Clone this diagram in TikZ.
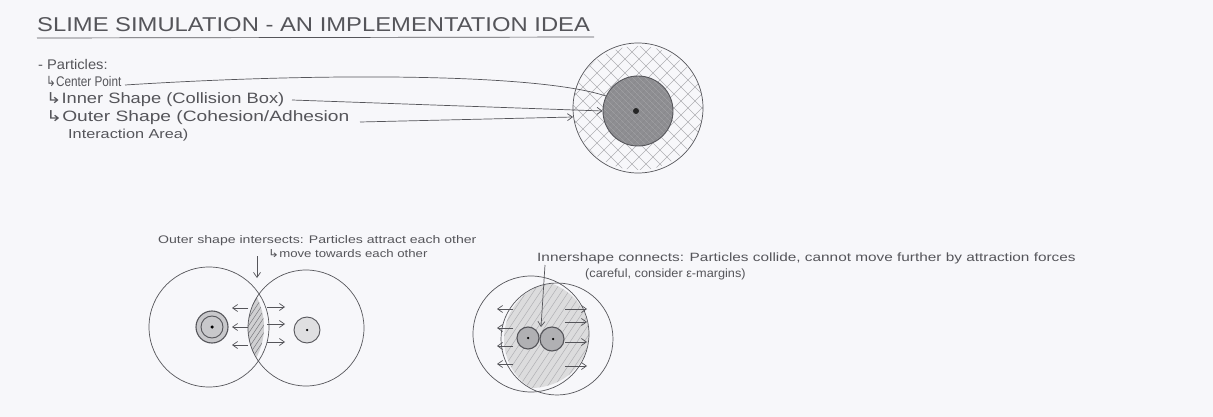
\documentclass[tikz,border=0pt]{standalone}
\usepackage{fontspec}
\setmainfont{Liberation Sans}
\newfontfamily\symf{DejaVu Sans}
\usetikzlibrary{arrows.meta}
\definecolor{paper}{HTML}{F7F7FA}
\definecolor{pencil}{HTML}{55555A}
\definecolor{hatchc}{HTML}{B0B0B4}
\definecolor{darkfill}{HTML}{8E8E92}
\newcommand{\hk}{{\symf ↳}}
\newcommand{\wide}[2]{\scalebox{#1}[1]{#2}}
\begin{document}
\begin{tikzpicture}[x=1pt,y=-1pt,
  ink/.style={draw=pencil, line width=0.7pt},
  lbl/.style={anchor=base west, text=pencil, inner sep=0pt},
  tip/.style={-{Straight Barb[length=5pt,width=7pt]}},
  ring/.style={circle, draw=pencil, line width=0.7pt, inner sep=0pt}]
\useasboundingbox (0,0) rectangle (1213,417);
\fill[paper] (0,0) rectangle (1213,417);

% ---------- title ----------
\node[lbl, font=\fontsize{20}{20}\selectfont] (title) at (37,32) {\wide{1.19}{SLIME SIMULATION - AN IMPLEMENTATION IDEA}};
\coordinate (ulA) at (37,38);
\coordinate (ulB) at (594,37);
\draw[ink] (ulA) -- (ulB);

% ---------- list ----------
\node[lbl, font=\fontsize{14}{14}\selectfont] (parts) at (38,70) {\wide{1.05}{- Particles:}};
\node[lbl, font=\fontsize{14}{14}\selectfont] (cpt) at (46,87) {\wide{0.84}{\hk Center Point}};
\node[lbl, font=\fontsize{15}{15}\selectfont] (inn) at (46,104) {\wide{1.22}{\hk Inner Shape (Collision Box)}};
\node[lbl, font=\fontsize{15}{15}\selectfont] (out) at (46,122) {\wide{1.28}{\hk Outer Shape (Cohesion/Adhesion}};
\node[lbl, font=\fontsize{13}{13}\selectfont] (out2) at (68,139) {\wide{1.25}{Interaction Area)}};

% ---------- particle sketch ----------
\begin{scope}
  \clip (638,108) ellipse (65 and 62);
  \foreach \k in {-160,-146,...,160} {
    \draw[hatchc, line width=0.5pt] (638+\k-80,188) -- (638+\k+80,28);
    \draw[hatchc, line width=0.5pt] (638+\k-80,28) -- (638+\k+80,188);
  }
\end{scope}
\node[ring, minimum width=130, minimum height=124] (outer) at (638,108) {};
\fill[darkfill] (638,111) circle (35);
\begin{scope}
  \clip (638,111) circle (35);
  \foreach \k in {-80,-74,...,80} {
    \draw[pencil!70, line width=0.45pt] (638+\k-40,151) -- (638+\k+40,71);
    \draw[pencil!55, line width=0.4pt] (638+\k-40,71) -- (638+\k+40,151);
  }
\end{scope}
\node[ring, minimum size=70, line width=0.9pt] (inner) at (638,111) {};
\node[circle, fill=black!85, minimum size=6, inner sep=0pt] (dot) at (636,111) {};

\coordinate (cptE) at (125,85);
\draw[ink] (cptE) .. controls (330,72) and (540,74) .. (inner.155);
\coordinate (innE) at (292,100);
\draw[ink, tip] (innE) -- (inner.west);
\coordinate (outE) at (360,122);
\coordinate (outT) at (573,117);
\draw[ink, tip] (outE) -- (outT);

% ---------- bottom left: outer shapes intersect ----------
\node[lbl, font=\fontsize{11}{11}\selectfont] (t1) at (158,243) {\wide{1.28}{Outer shape intersects: Particles attract each other}};
\node[lbl, font=\fontsize{11}{11}\selectfont] (t1b) at (268,257) {\wide{1.2}{\hk move towards each other}};

\begin{scope}
  \clip (209,327) ellipse (55 and 60);
  \clip (306,328) circle (58);
  \fill[hatchc!60] (150,260) rectangle (370,400);
  \foreach \k in {-80,-75,...,80} {
    \draw[pencil!80, line width=0.5pt] (257+\k-40,388) -- (257+\k+40,268);
  }
\end{scope}
\node[ring, minimum width=110, minimum height=120] (L1) at (209,327) {};
\node[ring, minimum size=116] (R1) at (306,328) {};
\node[ring, minimum size=32, line width=1.1pt, fill=hatchc!70] (pL) at (212,327) {};
\node[ring, minimum size=22, line width=0.9pt] (pLi) at (212,327) {};
\node[circle, fill=black, minimum size=3.5, inner sep=0pt] (pLd) at (212,327) {};
\node[ring, minimum size=26, line width=0.9pt, fill=hatchc!40] (pR) at (307,330) {};
\node[circle, fill=black, minimum size=2.5, inner sep=0pt] (pRd) at (307,330) {};

\coordinate (dA) at (257,256);
\coordinate (dB) at (257,278);
\draw[ink, tip] (dA) -- (dB);
\foreach \yy [count=\i] in {308,327,345} {
  \coordinate (la\i) at (248,\yy); \coordinate (lb\i) at (232,\yy);
  \draw[ink, tip] (la\i) -- (lb\i);
}
\foreach \yy [count=\i] in {307,324,342} {
  \coordinate (ra\i) at (267,\yy); \coordinate (rb\i) at (285,\yy);
  \draw[ink, tip] (ra\i) -- (rb\i);
}

% ---------- bottom right: inner shapes connect ----------
\node[lbl, font=\fontsize{12}{12}\selectfont] (t2) at (537,261) {\wide{1.28}{Innershape connects: Particles collide, cannot move further by attraction forces}};
\node[lbl, font=\fontsize{12}{12}\selectfont] (t2b) at (585,277) {\wide{1.06}{(careful, consider ε-margins)}};

\begin{scope}
  \clip (531,334) ellipse (58 and 54);
  \clip (557,339) ellipse (53 and 56);
  \fill[hatchc!45] (470,275) rectangle (615,400);
  \foreach \k in {-90,-83,...,90} {
    \draw[hatchc, line width=0.5pt] (557+\k-40,399) -- (557+\k+40,279);
  }
\end{scope}
\node[ring, minimum width=116, minimum height=108] (L2) at (531,334) {};
\node[ring, minimum width=106, minimum height=112] (R2) at (557,339) {};
\node[ring, minimum size=22, line width=1.1pt, fill=darkfill!70] (qL) at (528,338) {};
\node[ring, minimum size=24, line width=1.1pt, fill=darkfill!70] (qR) at (552,339) {};
\node[circle, fill=black, minimum size=2.5, inner sep=0pt] (qLd) at (528,338) {};
\node[circle, fill=black, minimum size=2.5, inner sep=0pt] (qRd) at (553,339) {};

\coordinate (eA) at (545,265);
\coordinate (eB) at (541,327);
\draw[ink, tip] (eA) -- (eB);
\foreach \yy [count=\i] in {309,328,346,364} {
  \coordinate (ma\i) at (513,\yy); \coordinate (mb\i) at (497,\yy);
  \draw[ink, tip] (ma\i) -- (mb\i);
}
\foreach \yy [count=\i] in {309,322,342,366} {
  \coordinate (na\i) at (565,\yy); \coordinate (nb\i) at (587,\yy);
  \draw[ink, tip] (na\i) -- (nb\i);
}
\end{tikzpicture}
\end{document}
